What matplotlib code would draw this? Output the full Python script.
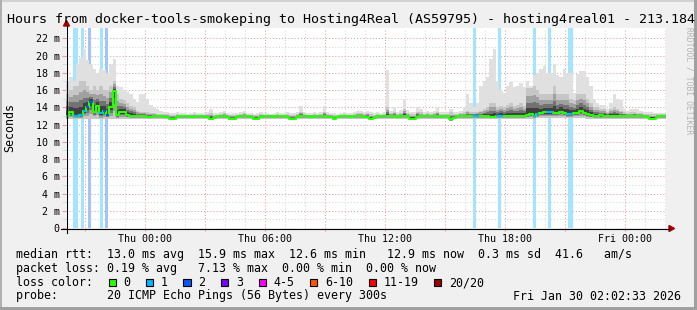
import numpy as np
import matplotlib
matplotlib.use("Agg")
from matplotlib import pyplot as plt
from matplotlib.lines import Line2D
from matplotlib.patches import Polygon, Rectangle
from matplotlib.colors import to_rgb

W, H = 697, 310
plt.rcParams['font.family'] = 'DejaVu Sans Mono'

# window is the last 30 hours (Wed 20:02:33 -> Fri 02:02:33), 10 minute bins, values in ms
BIN_MIN = 10
HOURS = 30
THU_0000 = 3.9575   # hours from window start to Thu 00:00
YMAX = 23.2

# top of the light smoke (slowest pings)
smoke_hi = [
    17.0, 17.5, 17.0, 19.0, 19.7, 20.8, 19.5, 19.0, 18.5, 18.0,
    18.5, 18.3, 18.0, 19.0, 19.6, 16.5, 16.3, 16.0, 15.8, 15.6,
    15.0, 14.6, 15.5, 15.5, 15.0, 14.3, 14.0, 13.8, 13.6, 13.5,
    13.4, 13.3, 13.3, 13.4, 13.3, 13.3, 13.2, 13.3, 13.4, 13.3,
    13.3, 13.3, 13.5, 13.8, 13.3, 13.3, 13.4, 13.6, 13.3, 13.2,
    13.3, 13.3, 13.4, 13.6, 13.3, 13.3, 13.2, 13.3, 13.4, 13.3,
    13.3, 13.2, 13.3, 13.4, 13.3, 13.3, 13.4, 13.3, 13.3, 13.5,
    14.2, 13.4, 13.3, 13.3, 13.4, 13.3, 13.4, 14.2, 13.4, 13.3,
    13.3, 13.2, 13.3, 13.4, 13.3, 13.3, 13.4, 13.6, 13.6, 13.5,
    13.6, 13.4, 13.3, 13.4, 13.3, 13.4, 18.3, 13.6, 14.0, 13.5,
    13.7, 15.0, 13.7, 13.5, 13.4, 14.0, 13.8, 13.5, 13.6, 13.5,
    13.6, 13.9, 13.5, 13.4, 13.5, 13.8, 13.4, 13.5, 13.6, 14.0,
    15.5, 14.5, 14.0, 14.5, 16.5, 17.0, 17.5, 19.6, 20.8, 17.0,
    16.0, 15.7, 16.5, 16.9, 16.3, 16.5, 16.8, 16.3, 17.0, 16.5,
    17.7, 18.0, 18.5, 18.8, 18.0, 18.0, 19.0, 17.7, 17.5, 18.5,
    18.0, 18.0, 15.7, 17.9, 18.2, 18.2, 17.5, 16.5, 15.0, 14.5,
    14.3, 14.3, 13.8, 14.5, 15.5, 15.0, 14.8, 13.8, 13.6, 13.8,
    13.8, 13.8, 13.6, 13.4, 13.4, 13.4, 13.3, 13.3, 13.3, 13.3,
]

# top of the dense (dark) smoke
smoke_mid = [
    15.5, 16.0, 16.5, 16.5, 17.0, 17.0, 16.5, 16.0, 16.5, 16.0,
    16.5, 16.0, 16.0, 16.5, 17.0, 15.5, 15.0, 14.8, 14.5, 14.2,
    14.0, 13.6, 13.5, 13.5, 13.4, 13.3, 13.3, 13.2, 13.2, 13.2,
    13.2, 13.15, 13.15, 13.2, 13.15, 13.15, 13.1, 13.15, 13.2, 13.15,
    13.15, 13.15, 13.2, 13.3, 13.15, 13.15, 13.2, 13.3, 13.15, 13.1,
    13.15, 13.15, 13.2, 13.3, 13.15, 13.15, 13.1, 13.15, 13.2, 13.15,
    13.15, 13.1, 13.15, 13.2, 13.15, 13.15, 13.2, 13.15, 13.15, 13.2,
    13.5, 13.2, 13.15, 13.15, 13.2, 13.15, 13.2, 13.5, 13.2, 13.15,
    13.15, 13.1, 13.15, 13.2, 13.15, 13.15, 13.2, 13.3, 13.3, 13.2,
    13.3, 13.2, 13.15, 13.2, 13.15, 13.2, 14.0, 13.3, 13.5, 13.2,
    13.3, 13.8, 13.3, 13.2, 13.2, 13.5, 13.4, 13.2, 13.3, 13.2,
    13.3, 13.5, 13.2, 13.2, 13.2, 13.4, 13.2, 13.2, 13.3, 13.4,
    13.6, 13.4, 13.4, 13.5, 13.6, 13.8, 14.0, 14.5, 14.5, 14.0,
    14.2, 14.0, 14.3, 14.5, 14.2, 14.3, 14.5, 14.2, 16.2, 16.2,
    16.5, 16.0, 15.5, 15.5, 15.5, 15.5, 16.5, 15.5, 15.5, 15.5,
    15.5, 15.0, 14.8, 15.5, 15.5, 15.5, 15.0, 14.5, 14.0, 14.0,
    13.8, 13.8, 13.5, 13.8, 14.0, 13.8, 13.6, 13.4, 13.3, 13.4,
    13.4, 13.3, 13.3, 13.2, 13.2, 13.2, 13.2, 13.2, 13.2, 13.2,
]

median = [
    13.0, 13.4, 13.0, 13.0, 13.1, 13.6, 14.0, 14.6, 13.5, 14.2,
    13.3, 13.6, 13.1, 14.0, 15.9, 13.1, 13.4, 13.4, 13.1, 13.0,
    13.0, 12.95, 13.0, 13.0, 12.9, 12.9, 13.0, 13.0, 12.95, 12.9,
    12.9, 12.7, 12.7, 12.9, 12.95, 13.0, 12.95, 12.9, 12.9, 12.95,
    12.95, 12.9, 12.9, 12.7, 12.75, 12.95, 13.0, 12.95, 12.9, 12.7,
    12.7, 12.9, 12.95, 13.0, 12.95, 12.9, 12.7, 12.7, 12.9, 12.95,
    13.0, 12.95, 12.9, 12.95, 13.0, 12.95, 12.9, 12.7, 12.7, 12.9,
    12.95, 13.0, 12.95, 12.9, 12.95, 13.0, 12.95, 12.95, 12.9, 12.9,
    12.7, 12.9, 12.95, 13.0, 12.95, 12.9, 12.95, 13.0, 12.95, 12.9,
    12.9, 12.7, 12.75, 12.95, 13.0, 12.95, 12.95, 13.0, 12.95, 12.9,
    12.95, 13.0, 12.95, 12.7, 12.7, 12.9, 12.95, 13.0, 12.95, 12.95,
    13.0, 12.95, 12.9, 12.95, 13.0, 12.6, 12.75, 12.95, 13.0, 12.95,
    13.0, 13.0, 13.0, 12.95, 13.0, 13.0, 12.95, 12.85, 12.9, 13.0,
    13.0, 13.0, 12.95, 13.0, 13.0, 13.0, 12.95, 13.0, 13.1, 13.2,
    13.0, 13.2, 13.3, 13.4, 13.4, 13.4, 13.3, 13.3, 13.5, 13.3,
    13.2, 13.2, 13.3, 13.3, 13.6, 13.3, 13.2, 13.1, 13.0, 13.0,
    13.05, 13.0, 12.95, 13.0, 13.0, 13.0, 12.95, 13.0, 13.0, 12.95,
    13.0, 13.0, 12.95, 12.95, 12.9, 12.7, 12.7, 12.9, 12.95, 12.95,
]

# bottom of the smoke (fastest pings)
smoke_lo = [
    12.6, 12.6, 12.6, 12.6, 12.6, 12.7, 12.6, 12.6, 12.7, 12.6,
    12.6, 12.6, 12.7, 12.6, 12.6, 12.6, 12.7, 12.7, 12.7, 12.7,
    12.7, 12.7, 12.7, 12.7, 12.7, 12.7, 12.7, 12.7, 12.7, 12.7,
    12.7, 12.5, 12.5, 12.7, 12.7, 12.7, 12.7, 12.7, 12.7, 12.7,
    12.7, 12.7, 12.7, 12.5, 12.6, 12.7, 12.7, 12.7, 12.7, 12.5,
    12.5, 12.7, 12.7, 12.7, 12.7, 12.7, 12.5, 12.5, 12.7, 12.7,
    12.7, 12.7, 12.7, 12.7, 12.7, 12.7, 12.7, 12.5, 12.5, 12.7,
    12.7, 12.7, 12.7, 12.7, 12.7, 12.7, 12.7, 12.7, 12.7, 12.7,
    12.5, 12.7, 12.7, 12.7, 12.7, 12.7, 12.7, 12.7, 12.7, 12.7,
    12.7, 12.5, 12.6, 12.7, 12.7, 12.7, 12.7, 12.7, 12.7, 12.7,
    12.7, 12.7, 12.7, 12.5, 12.5, 12.7, 12.7, 12.7, 12.7, 12.7,
    12.7, 12.7, 12.7, 12.7, 12.7, 12.4, 12.6, 12.7, 12.7, 12.7,
    12.7, 12.7, 12.7, 12.7, 12.7, 12.7, 12.7, 12.7, 12.7, 12.7,
    12.7, 12.7, 12.7, 12.7, 12.7, 12.7, 12.7, 12.7, 12.7, 12.7,
    12.7, 12.8, 12.8, 12.8, 12.8, 12.8, 12.8, 12.8, 12.8, 12.8,
    12.8, 12.8, 12.8, 12.8, 12.8, 12.8, 12.7, 12.7, 12.7, 12.7,
    12.7, 12.7, 12.7, 12.7, 12.7, 12.7, 12.7, 12.7, 12.7, 12.7,
    12.7, 12.7, 12.7, 12.7, 12.7, 12.5, 12.5, 12.7, 12.7, 12.7,
]

# packet loss events: start (minutes into the window), length (minutes), lost pings of 20
loss_start_min = [22, 45, 67, 102, 118, 1221, 1296, 1401, 1446, 1506]
loss_len_min = [15, 10, 8, 10, 8, 10, 10, 10, 10, 14]
loss_count = [1, 1, 2, 1, 2, 1, 1, 1, 1, 1]

loss_labels = ["0", "1", "2", "3", "4-5", "6-10", "11-19", "20/20"]
loss_colors = ["#26ff00", "#00b8ff", "#0059ff", "#7e00ff", "#ff00ff", "#ff5500", "#ff0000", "#a10000"]

x_labels = ["Thu 00:00", "Thu 06:00", "Thu 12:00", "Thu 18:00", "Fri 00:00"]

title = "Hours from docker-tools-smokeping to Hosting4Real (AS59795) - hosting4real01 - 213.184"
rtt_line = "median rtt:  13.0 ms avg  15.9 ms max  12.6 ms min   12.9 ms now  0.3 ms sd  41.6   am/s"
loss_line = "packet loss: 0.19 % avg   7.13 % max  0.00 % min  0.00 % now"
probe_line = "probe:       20 ICMP Echo Pings (56 Bytes) every 300s"
stamp = "Fri Jan 30 02:02:33 2026"

assert len(smoke_hi) == len(smoke_mid) == len(median) == len(smoke_lo) == 180


def loss_level(n):
    if n <= 3:
        return n
    if n <= 5:
        return 4
    if n <= 10:
        return 5
    if n <= 19:
        return 6
    return 7


def pale(col, a=0.36):
    c = np.array(to_rgb(col))
    return tuple(a * c + (1 - a))


# pixel helpers (origin top left, like the png)
def fx(px):
    return px / W


def fy(py):
    return 1 - py / H


def px_rect(x, y, w, h, color, **kw):
    fig.add_artist(Rectangle((fx(x), fy(y + h)), w / W, h / H,
                             transform=fig.transFigure, facecolor=color, **kw))


fig = plt.figure(figsize=(W / 100, H / 100), dpi=100)
fig.patch.set_facecolor("#f0f0f0")

ax = fig.add_axes([fx(66), fy(228), 600 / W, 200 / H])
ax.set_facecolor("white")
ax.set_xlim(0, HOURS)
ax.set_ylim(0, YMAX)

hi = np.array(smoke_hi)
mid = np.array(smoke_mid)
med = np.array(median)
lo = np.array(smoke_lo)
edges = np.arange(len(med) + 1) * BIN_MIN / 60.0


def ext(a):
    return np.append(a, a[-1])


# grid
major_x = THU_0000 + np.arange(-1, 9) * 3
minor_x = THU_0000 + np.arange(-3, 27)
ax.set_xticks(major_x)
ax.set_xticklabels([x_labels[k // 2] if k % 2 == 0 else "" for k in range(-1, 9)])
ax.set_xticks(minor_x, minor=True)
ax.set_yticks(np.arange(0, 23, 2))
ax.set_yticklabels(["0"] + ["%d m" % v for v in range(2, 23, 2)])
ax.set_yticks(np.arange(1, 23, 2), minor=True)
ax.set_axisbelow(True)
ax.grid(which="minor", color="#d6d6d6", ls=(0, (1, 2)), lw=0.75)
ax.grid(which="major", color="#e6a0a0", ls=(0, (1, 2)), lw=0.75)

ax.tick_params(which="both", direction="out", labelsize=7.2, labelcolor="black")
ax.tick_params(axis="x", which="major", length=2.5, pad=1.5, color="#e6a0a0")
ax.tick_params(axis="x", which="minor", length=1.5, color="#d6d6d6")
ax.tick_params(axis="y", which="major", length=3, pad=1.5, color="#e6a0a0")
ax.tick_params(axis="y", which="minor", length=3, color="#d6d6d6")
for s in ax.spines.values():
    s.set_visible(False)

# loss stripes behind the smoke
bin_loss = np.zeros(len(med), dtype=int)
for s, l, n in zip(loss_start_min, loss_len_min, loss_count):
    ax.axvspan(s / 60.0, (s + l) / 60.0, color=pale(loss_colors[loss_level(n)]), lw=0, zorder=1)
    b0 = int(s // BIN_MIN)
    b1 = int((s + l - 1) // BIN_MIN)
    bin_loss[b0:b1 + 1] = np.maximum(bin_loss[b0:b1 + 1], n)

# smoke, lighter outside, darker toward the median
ax.fill_between(edges, ext(lo), ext(hi), step="post", color="#e0e0e0", lw=0, zorder=2)
for f, c in zip([1.0, 0.7, 0.45, 0.25], ["#c6c6c6", "#a0a0a0", "#727272", "#404040"]):
    top = med + (mid - med) * f
    bot = med - (med - lo) * f
    ax.fill_between(edges, ext(bot), ext(top), step="post", color=c, lw=0, zorder=3)

# median, coloured by loss
ax.step(edges, ext(med), where="post", color=loss_colors[0], lw=1.5, zorder=5)
for i in np.nonzero(bin_loss)[0]:
    ax.hlines(med[i], edges[i], edges[i + 1], color=loss_colors[loss_level(bin_loss[i])],
              lw=1.5, zorder=6)

# axes with rrdtool style arrows
fig.add_artist(Line2D([fx(61), fx(669)], [fy(228.5)] * 2, color="black", lw=0.8))
fig.add_artist(Line2D([fx(66.5)] * 2, [fy(233), fy(26)], color="black", lw=0.8))
fig.add_artist(Polygon([(fx(669), fy(225.5)), (fx(674.5), fy(228.5)), (fx(669), fy(231.5))],
                       closed=True, transform=fig.transFigure, color="#a00000"))
fig.add_artist(Polygon([(fx(63.5), fy(26)), (fx(66.5), fy(20.5)), (fx(69.5), fy(26))],
                       closed=True, transform=fig.transFigure, color="#a00000"))

# frame shading
px_rect(0, 0, W, 2, "#d2d2d2", lw=0)
px_rect(0, 0, 2, H, "#b0b0b0", lw=0)
px_rect(W - 3, 0, 3, H, "#a0a0a0", lw=0)
px_rect(0, H - 3, W, 3, "#a0a0a0", lw=0)

# texts
fig.text(fx(7), fy(19), title, ha="left", va="center", fontsize=9.6, color="black")
fig.text(fx(10), fy(127), "Seconds", rotation=90, ha="center", va="center", fontsize=8.4)
fig.text(fx(688.5), fy(27), "RRDTOOL / TOBI OETIKER", rotation=270, ha="center", va="top",
         fontsize=5.8, color="#b4b4b4")

fig.text(fx(16), fy(254.5), rtt_line, ha="left", va="center", fontsize=8.4)
fig.text(fx(16), fy(268.5), loss_line, ha="left", va="center", fontsize=8.4)
fig.text(fx(16), fy(282.5), "loss color:", ha="left", va="center", fontsize=8.4)
fig.text(fx(16), fy(296), probe_line, ha="left", va="center", fontsize=8.4)
fig.text(fx(681), fy(296), stamp, ha="right", va="center", fontsize=8.4)

sx = 108.5
for lab, col in zip(loss_labels, loss_colors):
    px_rect(sx, 279, 7, 7, col, edgecolor="black", lw=0.8)
    fig.text(fx(sx + 15), fy(282.5), lab, ha="left", va="center", fontsize=8.4)
    sx += 7 * len(lab) + 30.5

fig.savefig("out.png", dpi=100, facecolor=fig.get_facecolor())
